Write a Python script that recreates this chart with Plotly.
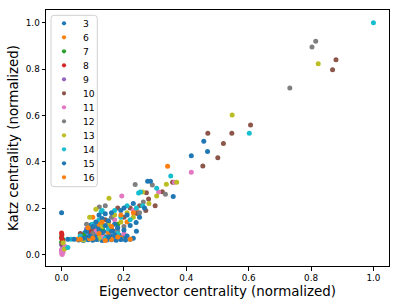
import plotly.graph_objects as go

# ---------------- data ----------------
labels = ["3", "6", "7", "8", "9", "10", "11", "12", "13", "14", "15", "16"]
colors = ["#1f77b4", "#ff7f0e", "#2ca02c", "#d62728", "#9467bd", "#8c564b",
          "#e377c2", "#7f7f7f", "#bcbd22", "#17becf", "#1f77b4", "#ff7f0e"]

pts_3 = [(0.055, 0.062), (0.07, 0.060), (0.085, 0.063), (0.10, 0.061), (0.115, 0.064),
         (0.13, 0.060), (0.145, 0.062), (0.16, 0.063), (0.175, 0.061), (0.19, 0.064),
         (0.205, 0.062), (0.22, 0.066), (0.06, 0.078), (0.08, 0.075), (0.095, 0.080),
         (0.11, 0.077), (0.125, 0.079), (0.14, 0.076), (0.155, 0.081), (0.17, 0.078),
         (0.185, 0.083), (0.20, 0.080), (0.075, 0.095), (0.09, 0.092), (0.105, 0.097),
         (0.12, 0.094), (0.135, 0.099), (0.15, 0.096), (0.165, 0.101), (0.085, 0.112),
         (0.10, 0.110), (0.115, 0.115), (0.13, 0.113), (0.15, 0.117), (0.095, 0.128),
         (0.11, 0.131), (0.125, 0.127), (0.416, 0.426), (0.468, 0.444)]
pts_6 = [(0.05, 0.066), (0.09, 0.068), (0.13, 0.085), (0.16, 0.064), (0.19, 0.072),
         (0.12, 0.13), (0.15, 0.095), (0.21, 0.14), (0.34, 0.381), (0.015, 0.03),
         (0.10, 0.16), (0.24, 0.19)]
pts_7 = [(0.0, 0.075), (0.0, 0.052), (0.07, 0.085), (0.13, 0.11), (0.18, 0.13), (0.004, 0.065)]
pts_8 = [(0.0, 0.092), (0.001, 0.085), (0.004, 0.058), (0.09, 0.10), (0.15, 0.14), (0.0, 0.07)]
pts_9 = [(0.0, 0.042), (0.005, 0.032), (0.0, 0.018), (0.08, 0.11), (0.12, 0.09), (0.003, 0.025)]
pts_10 = [(0.469, 0.523), (0.546, 0.523), (0.606, 0.559), (0.519, 0.479), (0.501, 0.417),
          (0.453, 0.382), (0.356, 0.312), (0.323, 0.27), (0.272, 0.266), (0.279, 0.239),
          (0.242, 0.177), (0.869, 0.797), (0.88, 0.84), (0.002, 0.045), (0.10, 0.11),
          (0.20, 0.16), (0.22, 0.20), (0.25, 0.21), (0.14, 0.15), (0.30, 0.21),
          (0.06, 0.09), (0.18, 0.20), (0.27, 0.19), (0.16, 0.11)]
pts_11 = [(0.416, 0.355), (0.362, 0.312), (0.311, 0.269), (0.193, 0.252), (0.0, 0.005),
          (0.0, 0.02), (0.005, 0.01), (0.01, 0.035), (0.11, 0.10), (0.17, 0.15),
          (0.23, 0.19), (0.002, 0.0), (0.13, 0.075), (0.20, 0.09)]
pts_12 = [(0.815, 0.92), (0.803, 0.895), (0.732, 0.718), (0.291, 0.30), (0.333, 0.26),
          (0.236, 0.302), (0.14, 0.21), (0.121, 0.205), (0.18, 0.098), (0.262, 0.226),
          (0.179, 0.11), (0.20, 0.12), (0.08, 0.13), (0.25, 0.18), (0.16, 0.16), (0.10, 0.09)]
pts_13 = [(0.547, 0.602), (0.823, 0.823), (0.369, 0.312), (0.336, 0.303), (0.26, 0.269),
          (0.305, 0.252), (0.152, 0.242), (0.11, 0.195), (0.009, 0.023), (0.005, 0.05),
          (0.13, 0.12), (0.17, 0.17), (0.21, 0.18), (0.07, 0.062), (0.19, 0.14),
          (0.23, 0.16), (0.09, 0.16), (0.15, 0.13), (0.12, 0.07), (0.28, 0.22)]
pts_14 = [(1.0, 1.0), (0.602, 0.523), (0.35, 0.338), (0.305, 0.286), (0.253, 0.269),
          (0.13, 0.19), (0.127, 0.184), (0.247, 0.265), (0.02, 0.03), (0.03, 0.065),
          (0.10, 0.13), (0.15, 0.11), (0.19, 0.16), (0.06, 0.08), (0.22, 0.15),
          (0.17, 0.19), (0.21, 0.21), (0.12, 0.15), (0.08, 0.10), (0.14, 0.07),
          (0.18, 0.09), (0.24, 0.20), (0.26, 0.21)]
pts_15 = [(0.0, 0.18), (0.456, 0.488), (0.358, 0.25), (0.276, 0.316), (0.285, 0.316),
          (0.266, 0.20), (0.239, 0.138), (0.07, 0.07), (0.09, 0.08), (0.11, 0.065),
          (0.13, 0.095), (0.15, 0.075), (0.17, 0.085), (0.19, 0.065), (0.21, 0.08),
          (0.23, 0.07), (0.08, 0.10), (0.10, 0.12), (0.12, 0.105), (0.14, 0.125),
          (0.16, 0.10), (0.18, 0.115), (0.20, 0.105), (0.11, 0.14), (0.13, 0.155),
          (0.15, 0.145), (0.17, 0.13), (0.22, 0.125), (0.12, 0.17), (0.14, 0.175),
          (0.16, 0.18), (0.19, 0.19), (0.21, 0.17), (0.23, 0.22), (0.20, 0.20),
          (0.25, 0.16), (0.24, 0.10), (0.02, 0.065), (0.04, 0.066)]
pts_16 = [(0.06, 0.065), (0.10, 0.07), (0.14, 0.06), (0.18, 0.075), (0.22, 0.065),
          (0.12, 0.09), (0.16, 0.12), (0.085, 0.115), (0.19, 0.17), (0.13, 0.14), (0.23, 0.18)]

series = [pts_3, pts_6, pts_7, pts_8, pts_9, pts_10, pts_11, pts_12, pts_13, pts_14, pts_15, pts_16]

x_ticks = [0.0, 0.2, 0.4, 0.6, 0.8, 1.0]
y_ticks = [0.0, 0.2, 0.4, 0.6, 0.8, 1.0]

# ---------------- layout constants (pixels) ----------------
W, H = 399, 307
L, R, T, B = 46, 389, 10, 266
FONT = "DejaVu Sans"

fig = go.Figure()
for lab, col, pts in zip(labels, colors, series):
    fig.add_trace(go.Scatter(
        x=[p[0] for p in pts], y=[p[1] for p in pts], mode="markers", name=lab,
        marker=dict(color=col, size=5, line=dict(width=0)), showlegend=False))

def px(xp):
    return (xp - L) / (R - L)

def py(yp):
    return (B - yp) / (B - T)

shapes = []
annotations = []
# legend box with rounded corners
bl, br, bt, bb, rr = 51, 97.3, 15.3, 186.7, 3
path = (f"M {px(bl+rr)},{py(bt)} L {px(br-rr)},{py(bt)} Q {px(br)},{py(bt)} {px(br)},{py(bt+rr)} "
        f"L {px(br)},{py(bb-rr)} Q {px(br)},{py(bb)} {px(br-rr)},{py(bb)} "
        f"L {px(bl+rr)},{py(bb)} Q {px(bl)},{py(bb)} {px(bl)},{py(bb-rr)} "
        f"L {px(bl)},{py(bt+rr)} Q {px(bl)},{py(bt)} {px(bl+rr)},{py(bt)} Z")
shapes.append(dict(type="path", xref="paper", yref="paper", path=path,
                   line=dict(color="#d0d0d0", width=1), fillcolor="rgba(255,255,255,0.8)",
                   layer="above"))
for i, (lab, col) in enumerate(zip(labels, colors)):
    yc = 23.3 + 14.0 * i
    r = 2.1
    shapes.append(dict(type="circle", xref="paper", yref="paper",
                       x0=px(64 - r), x1=px(64 + r), y0=py(yc + r), y1=py(yc - r),
                       fillcolor=col, line=dict(width=0), layer="above"))
    annotations.append(dict(xref="paper", yref="paper", x=px(81), y=py(yc), text=lab,
                            showarrow=False, xanchor="left", yanchor="middle",
                            font=dict(family=FONT, size=9.2, color="#000000")))

axis_common = dict(showline=True, linecolor="#000000", linewidth=1, mirror=True,
                   ticks="outside", ticklen=3.5, tickwidth=0.8, tickcolor="#000000",
                   showgrid=False, zeroline=False,
                   tickfont=dict(family=FONT, size=8.8, color="#000000"))

fig.update_layout(
    width=W, height=H,
    margin=dict(l=L, r=W - R, t=T, b=H - B, pad=0),
    paper_bgcolor="white", plot_bgcolor="white",
    showlegend=False,
    xaxis=dict(range=[-0.05, 1.05], tickvals=x_ticks, ticktext=[f"{v:.1f}" for v in x_ticks],
               title=dict(text="Eigenvector centrality (normalized)",
                          font=dict(family=FONT, size=13.4, color="#000000"), standoff=4),
               **axis_common),
    yaxis=dict(range=[-0.05, 1.055], tickvals=y_ticks, ticktext=[f"{v:.1f}" for v in y_ticks],
               title=dict(text="Katz centrality (normalized)",
                          font=dict(family=FONT, size=13.4, color="#000000"), standoff=4),
               **axis_common),
    shapes=shapes, annotations=annotations,
)

fig.write_html("out.html", config={"displayModeBar": False},
               post_script="document.body.style.margin='0';")
